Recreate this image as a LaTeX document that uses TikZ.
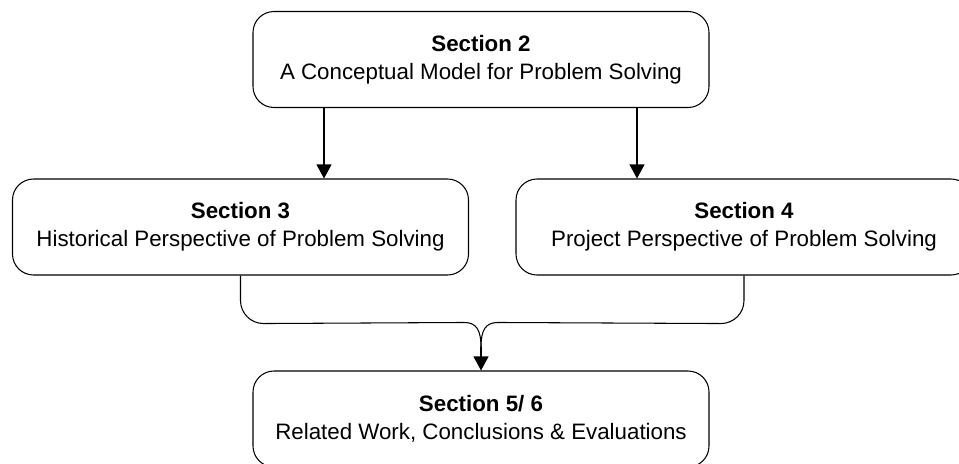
\documentclass[tikz,border=0pt]{standalone}
\usepackage{fontspec}
\setmainfont{Liberation Sans}
\usetikzlibrary{arrows.meta}

\begin{document}
\begin{tikzpicture}[
		sec/.style={draw,line width=0.6pt,rounded corners=0.42cm,minimum width=9.12cm,minimum height=1.92cm,align=center,font=\fontsize{12.7}{16}\selectfont},
		arr/.style={line width=0.6pt,-{Triangle[length=0.28cm,width=0.3cm]}},
		link/.style={line width=0.6pt}]
	\clip (0,0) rectangle (19.18,-9.26);

	\node[sec] (s2) at (9.62,-1.19) {\textbf{Section 2}\\A Conceptual Model for Problem Solving};
	\node[sec] (s3) at (4.81,-4.54) {\textbf{Section 3}\\Historical Perspective of Problem Solving};
	\node[sec] (s4) at (14.88,-4.54) {\textbf{Section 4}\\Project Perspective of Problem Solving};
	\node[sec] (s56) at (9.62,-8.38) {\textbf{Section 5/ 6}\\Related Work, Conclusions \& Evaluations};

	\draw[arr] ([xshift=-3.14cm]s2.south) -- ([xshift=-3.14cm]s2.south |- s3.north);
	\draw[arr] ([xshift=3.12cm]s2.south) -- ([xshift=3.12cm]s2.south |- s4.north);

	% brace joining sections 3 and 4
	\coordinate (tip) at ([yshift=0.46cm]s56.north);
	\draw[link] (s3.south) -- ++(0,-0.5) arc[start angle=180,end angle=270,radius=0.46cm] -- ([xshift=-0.34cm,yshift=0.5cm]tip) .. controls +(0.25,0) and +(0,0.35) .. (tip);
	\draw[link] (s4.south) -- ++(0,-0.5) arc[start angle=0,end angle=-90,radius=0.46cm] -- ([xshift=0.34cm,yshift=0.5cm]tip) .. controls +(-0.25,0) and +(0,0.35) .. (tip);
	\draw[arr] (tip) -- (s56.north);
\end{tikzpicture}
\end{document}
